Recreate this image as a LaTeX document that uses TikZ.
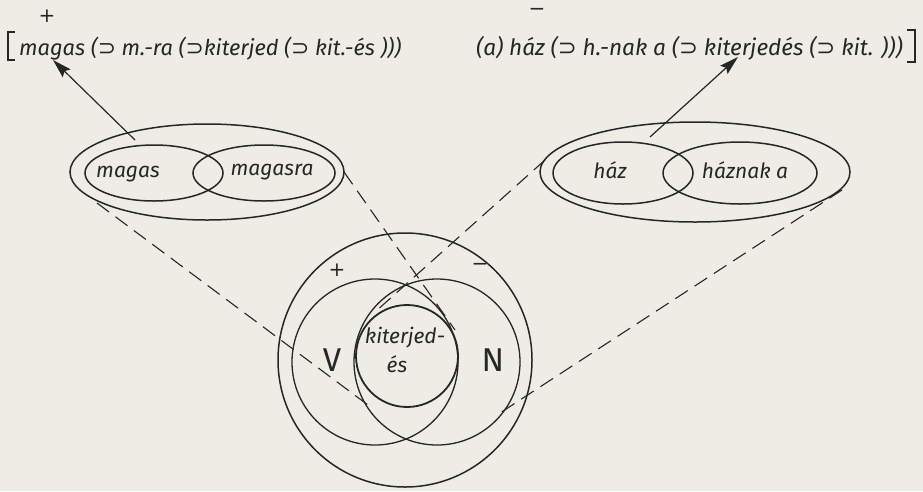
\documentclass[tikz,border=0pt]{standalone}
\usepackage{fontspec}
\setmainfont{Fira Sans}
\newfontfamily\symf{DejaVu Sans}
\usetikzlibrary{arrows.meta}
\definecolor{paper}{RGB}{237,236,229}
\definecolor{ink}{RGB}{38,38,38}
\newcommand{\incl}{{\symf\char"2283}}
\tikzset{
  ring/.style={draw=ink, line width=1.5pt},
  proj/.style={draw=ink, line width=1.1pt, dash pattern=on 15pt off 8pt},
  pointer/.style={draw=ink, line width=1.2pt, -{Stealth[length=19pt,width=11pt,inset=3pt]}},
  lbl/.style={font=\fontsize{21}{24}\selectfont\itshape, text=ink, inner sep=0pt},
  ltop/.style={font=\fontsize{21.8}{24}\selectfont\itshape, text=ink, inner sep=0pt},
  rtop/.style={font=\fontsize{22.6}{24}\selectfont\itshape, text=ink, inner sep=0pt},
  sign/.style={font=\symf\fontsize{20}{22}\selectfont, text=ink, inner sep=0pt},
  big/.style={font=\fontsize{33}{36}\selectfont, text=ink, inner sep=0pt},
  brk/.style={draw=ink, line width=1.3pt},
}
\begin{document}
\begin{tikzpicture}[x=1pt,y=-1pt]
\fill[paper] (0,0) rectangle (923,491);
\useasboundingbox (0,0) rectangle (923,491);

% top formula
\node[ltop, anchor=base west] (ltext) at (19,55) {magas (\incl\ m.-ra (\incl kiterjed (\incl\ kit.-és )))};
\node[rtop, anchor=base east] (rtext) at (903,55) {(a) ház (\incl\ h.-nak a (\incl\ kiterjedés (\incl\ kit. )))};
\node[sign] (tplus) at (47,16) {+};
\node[sign] (tminus) at (537,12) {−};
\draw[brk] (15,32) -- (8,32) -- (8,60) -- (15,60);
\draw[brk] (907,30) -- (915,30) -- (915,62) -- (907,62);

% left group
\draw[ring] (207,172) ellipse [x radius=137pt, y radius=48pt];
\draw[ring] (154,173) ellipse [x radius=69pt, y radius=28pt];
\draw[ring] (264,173) ellipse [x radius=71pt, y radius=28pt];
\node[lbl] (magas) at (128,174) {magas};
\node[lbl] (magasra) at (272,172) {magasra};

% right group
\draw[ring] (695,172) ellipse [x radius=155pt, y radius=50pt];
\draw[ring] (623,173) ellipse [x radius=70pt, y radius=31pt];
\draw[ring] (740,173) ellipse [x radius=77pt, y radius=31pt];
\node[lbl] (haz) at (610,170) {ház};
\node[lbl] (haznak) at (745,170) {háznak a};

% central circles
\draw[ring] (405,360) circle [radius=127pt];
\draw[ring, line width=1.3pt] (375,362) circle [radius=83pt];
\draw[ring, line width=1.3pt] (437,362) circle [radius=83pt];
\draw[ring, line width=1.8pt] (407,356) circle [radius=51pt];
\node[sign] (cplus) at (337,270) {+};
\node[sign] (cminus) at (480,267) {−};
\node[big] (V) at (332,360) {V};
\node[big] (N) at (493,360) {N};
\node[lbl] (kit1) at (405,338) {kiterjed-};
\node[lbl] (kit2) at (397,364) {és};

% connectors
\coordinate (la0) at (135,140);
\coordinate (la1) at (53,60);
\coordinate (ra0) at (650,137);
\coordinate (ra1) at (738,57);
\draw[pointer] (la0) -- (la1);
\draw[pointer] (ra0) -- (ra1);

\coordinate (d1a) at (97,203);  \coordinate (d1b) at (372,408);
\coordinate (d2a) at (344,172); \coordinate (d2b) at (455,330);
\coordinate (d3a) at (545,160); \coordinate (d3b) at (375,312);
\coordinate (d4a) at (842,190); \coordinate (d4b) at (500,413);
\draw[proj] (d1a) -- (d1b);
\draw[proj] (d2a) -- (d2b);
\draw[proj] (d3a) -- (d3b);
\draw[proj] (d4a) -- (d4b);
\end{tikzpicture}
\end{document}
